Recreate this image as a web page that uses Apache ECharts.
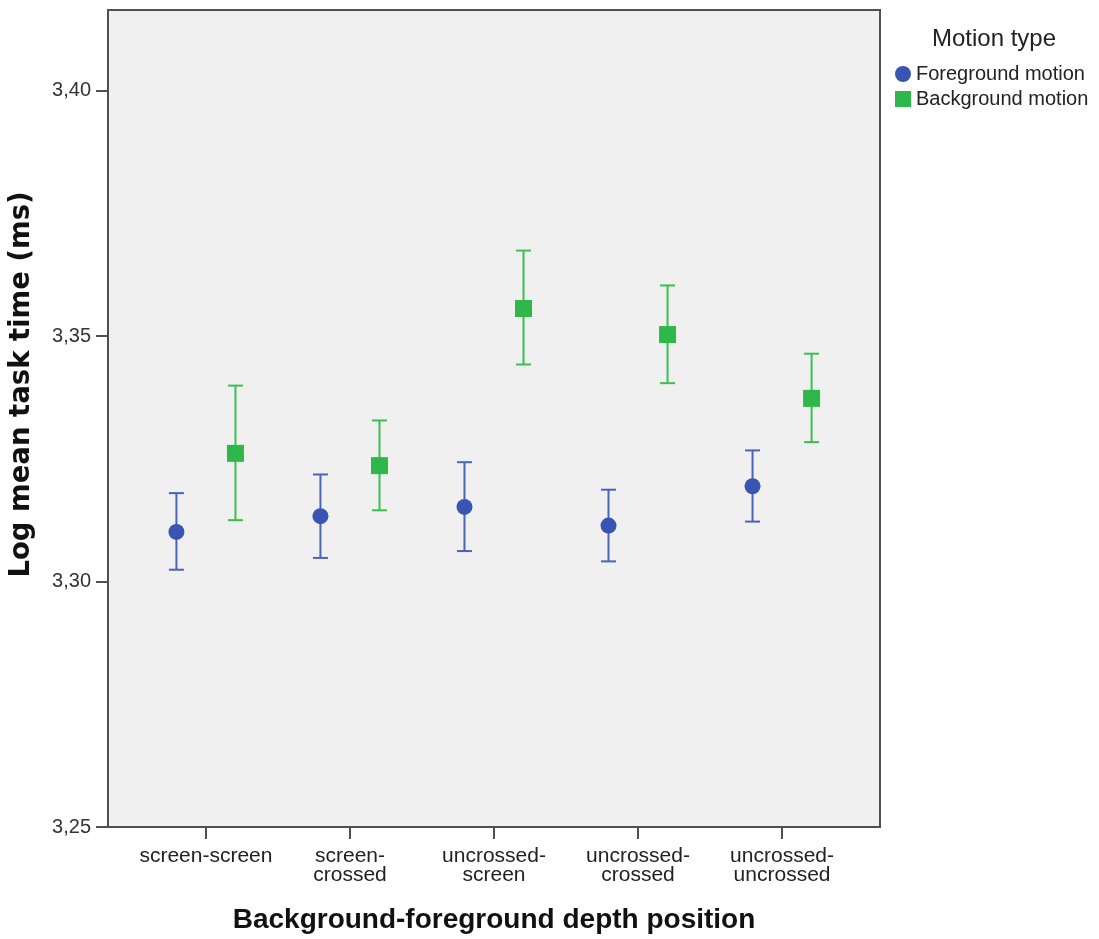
<!DOCTYPE html>
<html>
<head>
<meta charset="utf-8">
<script src="https://cdn.jsdelivr.net/npm/echarts@6/dist/echarts.min.js"></script>
<style>
html,body{margin:0;padding:0;background:#fff;}
#chart{width:1099px;height:939px;}
</style>
</head>
<body>
<div id="chart"></div>
<script>
// ---- data ----
const categories = ['screen-screen', 'screen-\ncrossed', 'uncrossed-\nscreen', 'uncrossed-\ncrossed', 'uncrossed-\nuncrossed'];
const seriesNames = ['Foreground motion', 'Background motion'];
const fgMean = [3.3101, 3.3133, 3.3152, 3.3114, 3.3194];
const fgLow  = [3.3024, 3.3048, 3.3062, 3.3041, 3.3122];
const fgHigh = [3.3180, 3.3218, 3.3243, 3.3187, 3.3267];
const bgMean = [3.3261, 3.3236, 3.3556, 3.3503, 3.3373];
const bgLow  = [3.3125, 3.3145, 3.3442, 3.3404, 3.3284];
const bgHigh = [3.3399, 3.3328, 3.3674, 3.3603, 3.3464];
const yTicks = [3.25, 3.30, 3.35, 3.40];

// ---- build ----
const dodge = 0.205;
const catIdx = categories.map((c, i) => i);
const blueMarker = '#3a54b4', blueLine = '#4c62bb';
const greenMarker = '#2eb84a', greenLine = '#3dbf50';

function errData(low, high, off) {
  return low.map((l, i) => [i + off, l, high[i]]);
}
function errSeries(name, data, color) {
  return {
    name: name, type: 'custom', z: 2, silent: true,
    data: data,
    encode: { x: 0, y: [1, 2] },
    renderItem: function (params, api) {
      const x = api.value(0);
      const lo = api.coord([x, api.value(1)]);
      const hi = api.coord([x, api.value(2)]);
      const hw = 7.5;
      const st = { stroke: color, lineWidth: 2 };
      return {
        type: 'group',
        children: [
          { type: 'line', shape: { x1: lo[0], y1: lo[1], x2: hi[0], y2: hi[1] }, style: st },
          { type: 'line', shape: { x1: lo[0] - hw, y1: lo[1], x2: lo[0] + hw, y2: lo[1] }, style: st },
          { type: 'line', shape: { x1: hi[0] - hw, y1: hi[1], x2: hi[0] + hw, y2: hi[1] }, style: st }
        ]
      };
    }
  };
}
const fmtY = v => v.toFixed(2).replace('.', ',');

const chart = echarts.init(document.getElementById('chart'), null, { renderer: 'canvas' });
chart.setOption({
  animation: false,
  backgroundColor: '#ffffff',
  title: {
    text: 'Motion type', left: 927, top: 22,
    textStyle: { fontFamily: 'Liberation Sans, Arial', fontSize: 24, fontWeight: 'normal', color: '#222' }
  },
  legend: {
    data: seriesNames.map((n, i) => ({ name: n, icon: i === 0 ? 'circle' : 'rect' })),
    orient: 'vertical', left: 895, top: 64, padding: 0,
    itemWidth: 16, itemHeight: 16, itemGap: 5,
    textStyle: { fontFamily: 'Liberation Sans, Arial', fontSize: 20, color: '#222' }
  },
  grid: {
    left: 108, top: 10, right: 219, bottom: 111,
    show: true, backgroundColor: '#f0f0f0', borderColor: '#505050', borderWidth: 2
  },
  xAxis: {
    type: 'value', min: -0.68, max: 4.68,
    name: 'Background-foreground depth position', nameLocation: 'middle', nameGap: 79,
    nameTextStyle: { fontFamily: 'Liberation Sans, Arial', fontSize: 28, fontWeight: 'bold', color: '#111' },
    axisLine: { show: true, onZero: false, lineStyle: { color: '#505050', width: 2 } },
    axisTick: { show: true, customValues: catIdx, length: 12, lineStyle: { color: '#505050', width: 2 } },
    axisLabel: {
      customValues: catIdx, margin: 20,
      formatter: v => (Number.isInteger(v) && categories[v] !== undefined) ? categories[v] : '',
      fontFamily: 'Liberation Sans, Arial', fontSize: 21, lineHeight: 19, color: '#222'
    },
    splitLine: { show: false }
  },
  yAxis: {
    type: 'value', min: 3.25, max: 3.4164, interval: 0.05,
    name: 'Log mean task time (ms)', nameLocation: 'middle', nameGap: 72,
    nameTextStyle: { fontFamily: 'DejaVu Sans', fontSize: 27.5, fontWeight: 'bold', color: '#111', padding: [0, 0, 0, 68] },
    axisLine: { show: true, onZero: false, lineStyle: { color: '#505050', width: 2 } },
    axisTick: { show: true, customValues: yTicks, length: 12, lineStyle: { color: '#505050', width: 2 } },
    axisLabel: {
      customValues: yTicks, margin: 17,
      formatter: v => yTicks.some(t => Math.abs(t - v) < 1e-6) ? fmtY(v) : '',
      fontFamily: 'Liberation Sans, Arial', fontSize: 20, color: '#333'
    },
    splitLine: { show: false }
  },
  series: [
    errSeries('fg-err', errData(fgLow, fgHigh, -dodge), blueLine),
    errSeries('bg-err', errData(bgLow, bgHigh, dodge), greenLine),
    {
      name: seriesNames[0], type: 'scatter', z: 3, symbol: 'circle', symbolSize: 16,
      itemStyle: { color: blueMarker, opacity: 1 },
      data: fgMean.map((m, i) => [i - dodge, m])
    },
    {
      name: seriesNames[1], type: 'scatter', z: 3, symbol: 'rect', symbolSize: 17,
      itemStyle: { color: greenMarker, opacity: 1 },
      data: bgMean.map((m, i) => [i + dodge, m])
    }
  ]
});
</script>
</body>
</html>
